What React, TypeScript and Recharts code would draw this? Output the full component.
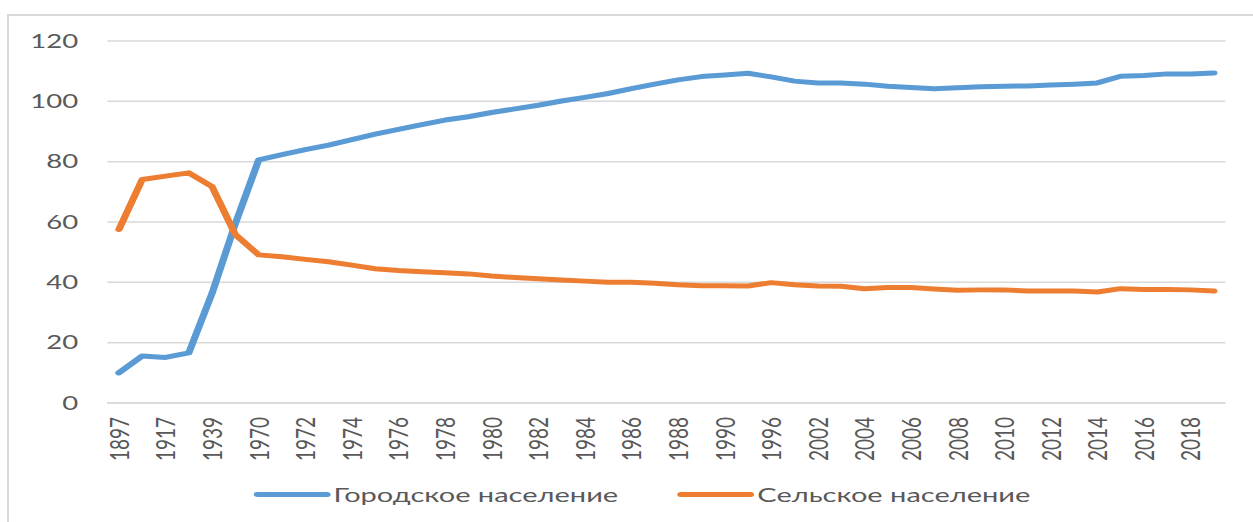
import { LineChart, Line, XAxis, YAxis, CartesianGrid, Legend } from "recharts";

const years = [
  "1897", "1914", "1917", "1926", "1939", "1959", "1970", "1971", "1972", "1973",
  "1974", "1975", "1976", "1977", "1978", "1979", "1980", "1981", "1982", "1983",
  "1984", "1985", "1986", "1987", "1988", "1989", "1990", "1991", "1996", "1999",
  "2002", "2003", "2004", "2005", "2006", "2007", "2008", "2009", "2010", "2011",
  "2012", "2013", "2014", "2015", "2016", "2017", "2018", "2019",
];

const urban = [
  10.0, 15.6, 15.1, 16.6, 36.4, 59.5, 80.6, 82.3, 84.0, 85.5,
  87.3, 89.1, 90.7, 92.3, 93.8, 94.9, 96.3, 97.5, 98.7, 100.1,
  101.3, 102.6, 104.2, 105.7, 107.1, 108.2, 108.7, 109.3, 108.1, 106.7,
  106.1, 106.1, 105.7, 105.0, 104.6, 104.2, 104.5, 104.8, 105.0, 105.1,
  105.4, 105.7, 106.1, 108.3, 108.6, 109.1, 109.1, 109.4,
];

const rural = [
  57.5, 74.1, 75.2, 76.3, 71.7, 55.8, 49.1, 48.5, 47.6, 46.8,
  45.7, 44.5, 43.9, 43.5, 43.2, 42.8, 42.1, 41.6, 41.2, 40.8,
  40.4, 40.0, 40.0, 39.7, 39.2, 38.9, 38.9, 38.8, 39.9, 39.2,
  38.8, 38.7, 37.9, 38.3, 38.3, 37.8, 37.4, 37.5, 37.5, 37.1,
  37.1, 37.1, 36.8, 37.9, 37.6, 37.6, 37.5, 37.1,
];

const yTicks = [0, 20, 40, 60, 80, 100, 120];

const seriesNames = ["Городское население", "Сельское население"];
const seriesColors = ["#5b9bd5", "#ed7d31"];

const data = years.map((year, i) => ({ year, urban: urban[i], rural: rural[i] }));

// the reference picture is stretched sideways, so the chart is drawn narrow and scaled
const STRETCH = 1253 / 864;
const FONT = "Lato, 'Open Sans', sans-serif";
const TEXT = "#595959";

function YearTick(props: any) {
  const { x, y, payload } = props;
  return (
    <g transform={`translate(${x},${y})`}>
      <text
        transform="rotate(-90)"
        x={0}
        y={0}
        dy="0.36em"
        textAnchor="end"
        fill={TEXT}
        fontSize={19}
        fontFamily={FONT}
      >
        {payload.value}
      </text>
    </g>
  );
}

function LegendContent() {
  return (
    <div
      style={{
        height: 30,
        display: "flex",
        alignItems: "center",
        paddingLeft: 175,
        fontFamily: FONT,
        fontSize: 20,
        color: TEXT,
      }}
    >
      {seriesNames.map((name, i) => (
        <div
          key={name}
          style={{ display: "flex", alignItems: "center", marginLeft: i === 0 ? 0 : 41 }}
        >
          <span
            style={{
              display: "inline-block",
              width: 53,
              height: 5,
              borderRadius: 3,
              background: seriesColors[i],
              marginRight: 2,
            }}
          />
          <span style={{ whiteSpace: "nowrap" }}>{name}</span>
        </div>
      ))}
    </div>
  );
}

export default function App() {
  return (
    <div
      style={{
        position: "absolute",
        left: 0,
        top: 0,
        width: 1253,
        height: 522,
        overflow: "hidden",
        background: "#fff",
      }}
    >
      <div style={{ position: "absolute", left: 7, top: 14, right: 0, height: 2, background: "#d9d9d9" }} />
      <div style={{ position: "absolute", left: 7, top: 14, bottom: 0, width: 2, background: "#d9d9d9" }} />
      <div
        style={{
          position: "absolute",
          left: 0,
          top: 0,
          width: 864,
          height: 522,
          transform: `scaleX(${STRETCH})`,
          transformOrigin: "0 0",
        }}
      >
        <LineChart
          width={864}
          height={522}
          data={data}
          margin={{ top: 41, right: 19, left: 0, bottom: 29 }}
        >
          <CartesianGrid vertical={false} stroke="#d9d9d9" strokeWidth={1.5} />
          <XAxis
            dataKey="year"
            interval={1}
            height={60}
            padding={{ left: 8, right: 8 }}
            tickLine={false}
            tickSize={0}
            tickMargin={14}
            axisLine={{ stroke: "#d9d9d9", strokeWidth: 1.5 }}
            tick={<YearTick />}
          />
          <YAxis
            width={74}
            domain={[0, 120]}
            ticks={yTicks}
            axisLine={false}
            tickLine={false}
            tickSize={0}
            tickMargin={20}
            tick={{ fill: TEXT, fontSize: 19, fontFamily: FONT }}
          />
          <Legend verticalAlign="bottom" content={<LegendContent />} wrapperStyle={{ bottom: 13 }} />
          <Line
            type="linear"
            dataKey="urban"
            name={seriesNames[0]}
            stroke={seriesColors[0]}
            strokeWidth={5}
            strokeLinecap="round"
            strokeLinejoin="round"
            dot={false}
            isAnimationActive={false}
          />
          <Line
            type="linear"
            dataKey="rural"
            name={seriesNames[1]}
            stroke={seriesColors[1]}
            strokeWidth={5}
            strokeLinecap="round"
            strokeLinejoin="round"
            dot={false}
            isAnimationActive={false}
          />
        </LineChart>
      </div>
    </div>
  );
}
